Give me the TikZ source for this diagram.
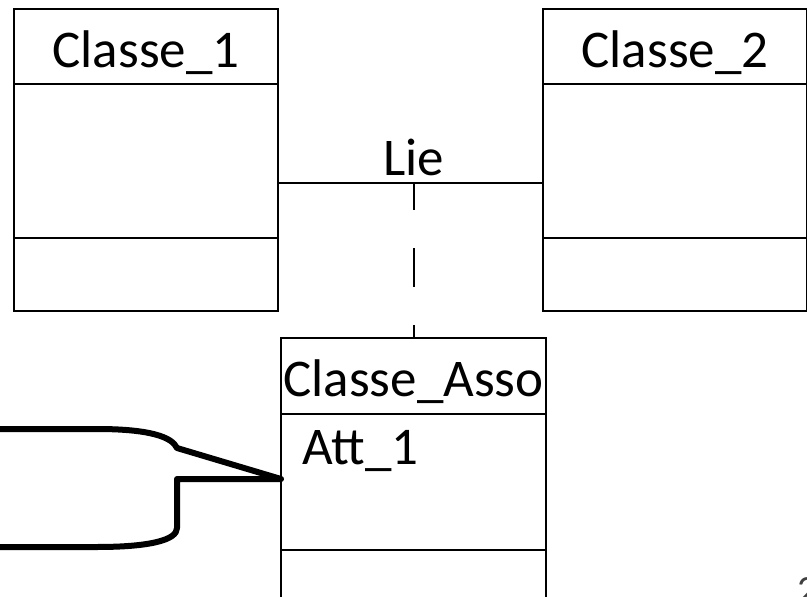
\documentclass[tikz,border=0pt]{standalone}
\usepackage{fontspec}
\setmainfont{Carlito}
\usetikzlibrary{positioning}

\begin{document}
\begin{tikzpicture}[x=1pt, y=-1pt,
    umlhead/.style={draw, line width=1.5pt, outer sep=0pt, inner sep=0pt,
      minimum width=264pt, minimum height=75pt, text height=41pt, text depth=0pt,
      font=\fontsize{53}{60}\selectfont},
    umlpart/.style={draw, line width=1.5pt, outer sep=0pt, inner sep=0pt, minimum width=264pt},
    umltext/.style={inner sep=0pt, font=\fontsize{53}{60}\selectfont},
    callout/.style={line width=6pt, line join=round}]
  \useasboundingbox (0,0) rectangle (807,597);
  \clip (0,0) rectangle (807,597);
  % Nodes
  \node[umlhead] (h1) at (146,46.5) {Classe\_1};
  \node[umlpart, minimum height=154pt, below=0pt of h1] (a1) {};
  \node[umlpart, minimum height=73pt, below=0pt of a1] (o1) {};
  \node[umlhead] (h2) at (675,46.5) {Classe\_2};
  \node[umlpart, minimum height=154pt, below=0pt of h2] (a2) {};
  \node[umlpart, minimum height=73pt, below=0pt of a2] (o2) {};
  \node[umlhead, minimum width=265pt, minimum height=76pt] (h3) at (413.5,376) {Classe\_Asso};
  \node[umlpart, minimum width=265pt, minimum height=136pt, below=0pt of h3] (a3) {};
  \node[umlpart, minimum width=265pt, minimum height=100pt, below=0pt of a3] (o3) {};
  \node[umltext, anchor=north west] (att) at ([xshift=21pt, yshift=-16pt]a3.north west) {Att\_1};
  % Association
  \coordinate (m) at (414,183);
  \draw[line width=1.5pt] (a1.east |- m) -- (a2.west |- m);
  \node[umltext, anchor=base] (lie) at ([yshift=8pt]m) {Lie};
  \draw[line width=1.5pt, dash pattern=on 39pt off 38pt, dash phase=12pt] (m) -- (m |- h3.north);
  % Callout
  \coordinate (tip) at ([yshift=3pt]a3.west);
  \draw[callout] (-20,429) -- (97,429) .. controls (150,429) and (172,437) .. (177,448)
    -- (tip) -- (177,479) -- (177,528) .. controls (177,540) and (150,547) .. (97,547) -- (-20,547);
  \node[inner sep=0pt, anchor=north west, text=black!75, font=\fontsize{40}{48}\selectfont] (num) at (797,577) {2};
\end{tikzpicture}
\end{document}
